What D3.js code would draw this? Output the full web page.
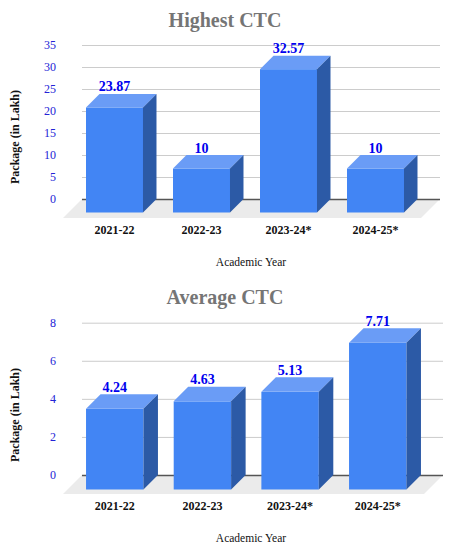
<!DOCTYPE html>
<html>
<head>
<meta charset="utf-8">
<script src="https://cdn.jsdelivr.net/npm/d3@7"></script>
<style>
  body { margin: 0; background: #fff; }
  svg { display: block; font-family: "Liberation Serif", "Times New Roman", serif; }
</style>
</head>
<body>
<div id="chart"></div>
<script>
// Data
var years = ["2021-22", "2022-23", "2023-24*", "2024-25*"];
var highestCTC = [23.87, 10, 32.57, 10];
var averageCTC = [4.24, 4.63, 5.13, 7.71];
var highestTicks = [0, 5, 10, 15, 20, 25, 30, 35];
var averageTicks = [0, 2, 4, 6, 8];

var W = 461, H = 553;

var svg = d3.select("#chart")
    .append("svg")
    .attr("width", W)
    .attr("height", H);

function drawChart(opts) {
    var g = svg.append("g")
        .attr("transform", "translate(0," + opts.top + ")");

    var backLeft = 82,
        backRight = opts.backRight,
        depth = opts.depth,     // bar depth offset
        floorDepth = 19;        // floor depth offset

    var x = d3.scaleBand()
        .domain(years)
        .range(opts.xRange)
        .paddingInner(0.345)
        .paddingOuter(0.2);

    var y = d3.scaleLinear()
        .domain([0, d3.max(opts.ticks)])
        .range([opts.zeroY, opts.topY]);

    var y0 = y(0);
    var bw = x.bandwidth();

    // Title
    g.append("text")
        .attr("x", 225)
        .attr("y", 27)
        .attr("text-anchor", "middle")
        .style("font-size", "20px")
        .style("font-weight", "bold")
        .style("fill", "#757575")
        .text(opts.title);

    // Floor
    g.append("polygon")
        .attr("points", [
            [backLeft, y0], [backRight, y0],
            [backRight - floorDepth, y0 + floorDepth], [backLeft - floorDepth, y0 + floorDepth]
        ].map(p => p.join(",")).join(" "))
        .attr("fill", "#ebebeb");

    // Gridlines + y labels
    var yAxis = d3.axisLeft(y)
        .tickValues(opts.ticks)
        .tickSize(-(backRight - backLeft))
        .tickPadding(26);

    var ya = g.append("g")
        .attr("class", "y axis")
        .attr("transform", "translate(" + backLeft + ",0)")
        .call(yAxis)
        .attr("font-family", null);
    ya.select(".domain").remove();
    ya.selectAll(".tick line")
        .attr("stroke", d => d === 0 ? "#555" : "#cccccc")
        .attr("stroke-width", d => d === 0 ? 1.4 : 1);
    ya.selectAll(".tick text")
        .style("font-size", "12px")
        .style("fill", "#2323d6");

    // Bars (3d)
    var bars = g.selectAll(".bar")
        .data(opts.values)
        .enter().append("g")
        .attr("class", "bar");

    bars.append("rect")
        .attr("x", (d, i) => x(years[i]))
        .attr("y", d => y(d) + depth)
        .attr("width", bw)
        .attr("height", d => y0 - y(d))
        .attr("fill", "#4285f4");

    bars.append("polygon")
        .attr("points", function(d, i) {
            var x0 = x(years[i]), yt = y(d);
            return [[x0, yt + depth], [x0 + depth, yt], [x0 + bw + depth, yt], [x0 + bw, yt + depth]]
                .map(p => p.join(",")).join(" ");
        })
        .attr("fill", "#6a9cf6");

    bars.append("polygon")
        .attr("points", function(d, i) {
            var x0 = x(years[i]), yt = y(d);
            return [[x0 + bw, yt + depth], [x0 + bw + depth, yt], [x0 + bw + depth, y0], [x0 + bw, y0 + depth]]
                .map(p => p.join(",")).join(" ");
        })
        .attr("fill", "#2c5aa6");

    // Data labels
    bars.append("text")
        .attr("x", (d, i) => x(years[i]) + bw / 2)
        .attr("y", d => y(d) - 2.5)
        .attr("text-anchor", "middle")
        .style("font-size", "14px")
        .style("font-weight", "bold")
        .style("fill", "#0000ee")
        .text(d => d);

    // X labels
    var xa = g.append("g")
        .attr("class", "x axis")
        .attr("transform", "translate(0," + (y0 + 20) + ")")
        .call(d3.axisBottom(x).tickSize(0).tickPadding(6))
        .attr("font-family", null);
    xa.select(".domain").remove();
    xa.selectAll(".tick text")
        .style("font-size", "12px")
        .style("font-weight", "bold")
        .style("fill", "#111");

    // Axis titles
    g.append("text")
        .attr("x", 251)
        .attr("y", y0 + 67)
        .attr("text-anchor", "middle")
        .style("font-size", "11.5px")
        .style("fill", "#111")
        .text("Academic Year");

    g.append("text")
        .attr("transform", "rotate(-90)")
        .attr("x", -(opts.yTitleY))
        .attr("y", 19)
        .attr("text-anchor", "middle")
        .style("font-size", "12px")
        .style("font-weight", "bold")
        .style("fill", "#111")
        .text("Package (in Lakh)");
}

drawChart({
    top: 0,
    title: "Highest CTC",
    values: highestCTC,
    ticks: highestTicks,
    zeroY: 199,
    topY: 45,
    backRight: 440,
    xRange: [68.6, 421.4],
    depth: 13.5,
    yTitleY: 137
});

drawChart({
    top: 277,
    title: "Average CTC",
    values: averageCTC,
    ticks: averageTicks,
    zeroY: 198,
    topY: 45.7,
    backRight: 443,
    xRange: [68.5, 424],
    depth: 14.5,
    yTitleY: 138
});
</script>
</body>
</html>
